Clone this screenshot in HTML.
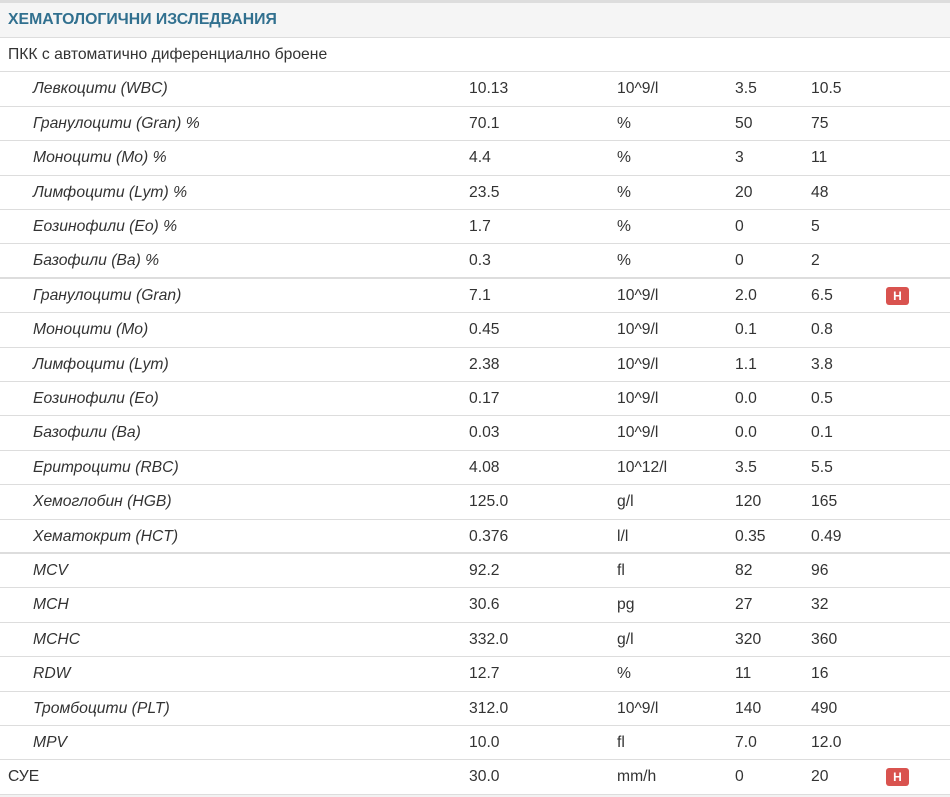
<!DOCTYPE html>
<html><head><meta charset="utf-8"><style>
body{margin:0;width:950px;height:797px;background:#fff;position:relative;overflow:hidden;font-family:"Liberation Sans",Arial,sans-serif;font-size:15.7px;color:#333}
.top{position:absolute;left:0;top:0;width:950px;height:3px;background:#ddd}
.hdr{position:absolute;left:0;top:3px;width:950px;height:34px;background:#f5f5f5;border-bottom:1px solid #ddd}
.hdr span{position:absolute;left:8px;top:8px;color:#31708f;font-weight:bold;font-size:15.8px}
.r{position:absolute;left:0;width:950px;height:34px;border-bottom:1px solid #ddd}
.r.t{border-bottom:2px solid #ddd}
.r span{position:absolute;top:8px;white-space:nowrap}
.n{left:33px;font-style:italic}
.n0{left:8px}
.v{left:469px}.u{left:617px}.mn{left:735px}.mx{left:811px}
.b{position:absolute;left:886px;top:8px;width:23px;height:18px;background:#d9534f;border-radius:3px;color:#fff;font-weight:bold;font-size:12px;text-align:center;line-height:18px}
.bot{position:absolute;left:0;top:795px;width:950px;height:2px;background:#f2f2f2}
</style></head><body>
<div class="top"></div>
<div class="hdr"><span>ХЕМАТОЛОГИЧНИ ИЗСЛЕДВАНИЯ</span></div>
<div class="r" style="top:38px;height:33px"><span class="n0">ПКК с автоматично диференциално броене</span></div>
<div id="rows"></div>
<script>
var d=[
["Левкоцити (WBC)","10.13","10^9/l","3.5","10.5"],
["Гранулоцити (Gran) %","70.1","%","50","75"],
["Моноцити (Mo) %","4.4","%","3","11"],
["Лимфоцити (Lym) %","23.5","%","20","48"],
["Еозинофили (Eo) %","1.7","%","0","5"],
["Базофили (Ba) %","0.3","%","0","2",0,1],
["Гранулоцити (Gran)","7.1","10^9/l","2.0","6.5",1],
["Моноцити (Mo)","0.45","10^9/l","0.1","0.8"],
["Лимфоцити (Lym)","2.38","10^9/l","1.1","3.8"],
["Еозинофили (Eo)","0.17","10^9/l","0.0","0.5"],
["Базофили (Ba)","0.03","10^9/l","0.0","0.1"],
["Еритроцити (RBC)","4.08","10^12/l","3.5","5.5"],
["Хемоглобин (HGB)","125.0","g/l","120","165"],
["Хематокрит (HCT)","0.376","l/l","0.35","0.49",0,1],
["MCV","92.2","fl","82","96"],
["MCH","30.6","pg","27","32"],
["MCHC","332.0","g/l","320","360"],
["RDW","12.7","%","11","16"],
["Тромбоцити (PLT)","312.0","10^9/l","140","490"],
["MPV","10.0","fl","7.0","12.0"],
["СУЕ","30.0","mm/h","0","20",1,0,1]];
var h="";
d.forEach(function(r,i){
var top=71.4+34.4*i+1;
h+='<div class="r'+(r[6]?' t':'')+'" style="top:'+top.toFixed(1)+'px;height:'+(r[6]?32.4:33.4)+'px"><span class="'+(r[7]?'n0':'n')+'">'+r[0]+'</span><span class="v">'+r[1]+'</span><span class="u">'+r[2]+'</span><span class="mn">'+r[3]+'</span><span class="mx">'+r[4]+'</span>'+(r[5]?'<div class="b">H</div>':'')+'</div>';
});
document.getElementById("rows").innerHTML=h;
</script>
<div class="bot"></div>
</body></html>
